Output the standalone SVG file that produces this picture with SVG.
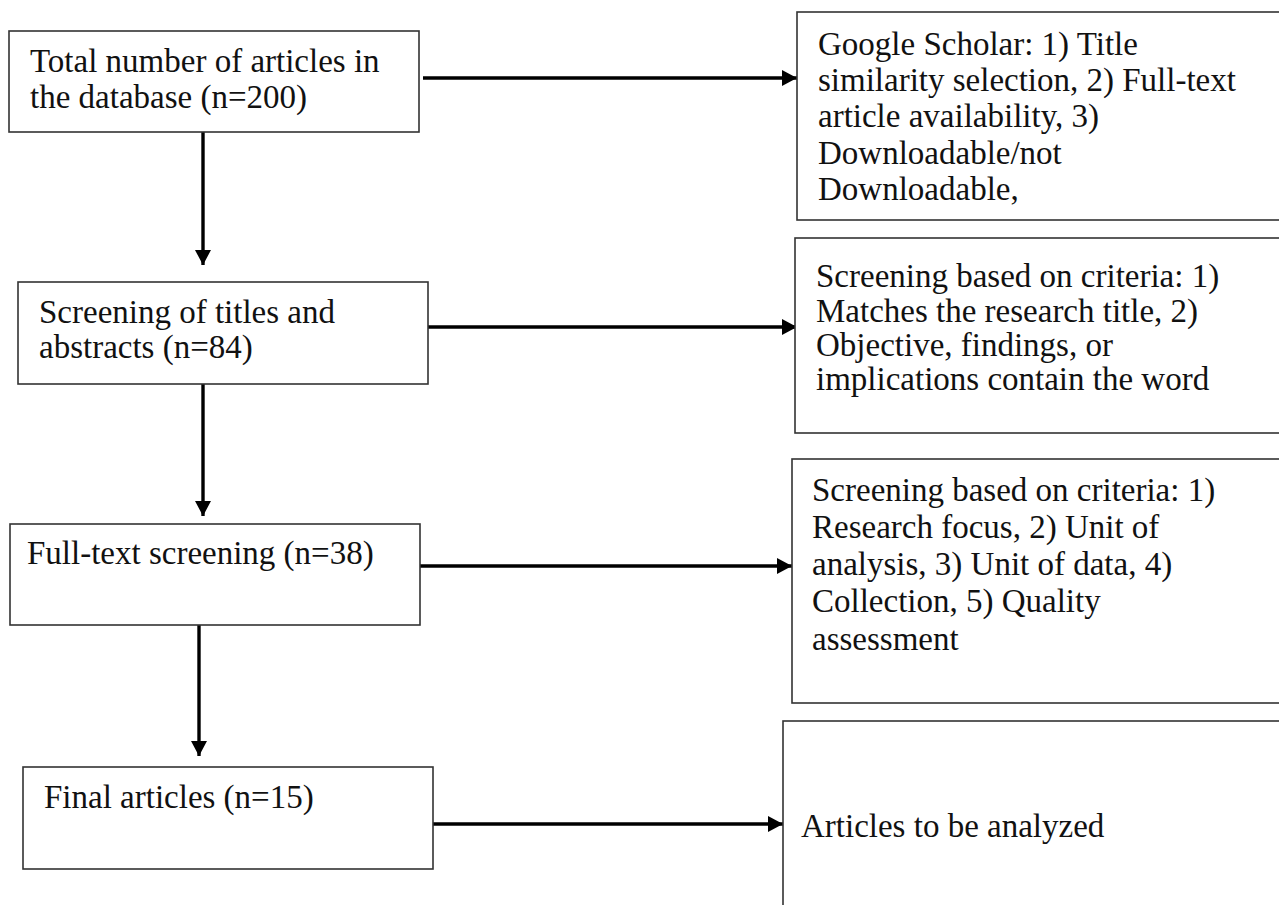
<svg xmlns="http://www.w3.org/2000/svg" width="1279" height="905" viewBox="0 0 1279 905">
<style>
.box{fill:#fff;stroke:#333;stroke-width:1.6}
.t{font-family:"Liberation Serif","Times New Roman",serif;font-size:33px;fill:#111}
.c{stroke:#000;stroke-width:3.4;fill:none;marker-end:url(#ah)}
</style>
<defs>
<marker id="ah" markerUnits="userSpaceOnUse" markerWidth="18" markerHeight="18" refX="15" refY="8" orient="auto">
<path d="M0,0 L15,8 L0,16 z" fill="#000"/>
</marker>
</defs>
<rect width="1279" height="905" fill="#fff"/>
<g id="connectors">
<line class="c" x1="423" y1="78" x2="797" y2="78"/>
<line class="c" x1="203" y1="132" x2="203" y2="265"/>
<line class="c" x1="428" y1="327" x2="797" y2="327"/>
<line class="c" x1="203" y1="384" x2="203" y2="516"/>
<line class="c" x1="420" y1="566" x2="792" y2="566"/>
<line class="c" x1="199" y1="623" x2="199" y2="756"/>
<line class="c" x1="433" y1="824" x2="783" y2="824"/>
</g>
<g id="n1">
<rect class="box" x="9" y="31" width="410" height="101"/>
<text class="t" x="30" y="72">Total number of articles in</text>
<text class="t" x="30" y="108">the database (n=200)</text>
</g>
<g id="n2">
<rect class="box" x="18" y="282" width="410" height="102"/>
<text class="t" x="39" y="323">Screening of titles and</text>
<text class="t" x="39" y="358">abstracts (n=84)</text>
</g>
<g id="n3">
<rect class="box" x="10" y="524" width="410" height="101"/>
<text class="t" x="27" y="564">Full-text screening (n=38)</text>
</g>
<g id="n4">
<rect class="box" x="23" y="767" width="410" height="102"/>
<text class="t" x="44" y="808">Final articles (n=15)</text>
</g>
<g id="r1">
<rect class="box" x="797" y="12" width="520" height="208"/>
<text class="t" x="818" y="55">Google Scholar: 1) Title</text>
<text class="t" x="818" y="91">similarity selection, 2) Full-text</text>
<text class="t" x="818" y="127">article availability, 3)</text>
<text class="t" x="818" y="164">Downloadable/not</text>
<text class="t" x="818" y="200">Downloadable,</text>
</g>
<g id="r2">
<rect class="box" x="795" y="238" width="520" height="195"/>
<text class="t" x="816" y="287">Screening based on criteria: 1)</text>
<text class="t" x="816" y="322">Matches the research title, 2)</text>
<text class="t" x="816" y="356">Objective, findings, or</text>
<text class="t" x="816" y="390">implications contain the word</text>
</g>
<g id="r3">
<rect class="box" x="792" y="459" width="520" height="244"/>
<text class="t" x="812" y="501">Screening based on criteria: 1)</text>
<text class="t" x="812" y="538">Research focus, 2) Unit of</text>
<text class="t" x="812" y="575">analysis, 3) Unit of data, 4)</text>
<text class="t" x="812" y="612">Collection, 5) Quality</text>
<text class="t" x="812" y="650">assessment</text>
</g>
<g id="r4">
<rect class="box" x="783" y="721" width="530" height="220"/>
<text class="t" x="801" y="837">Articles to be analyzed</text>
</g>
</svg>
